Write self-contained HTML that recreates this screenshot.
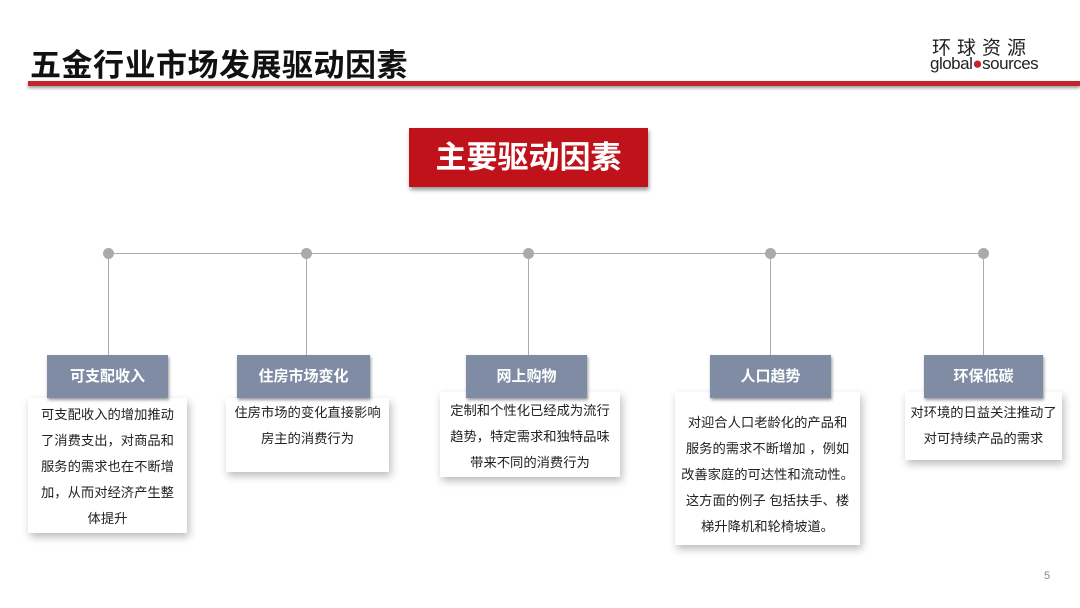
<!DOCTYPE html>
<html><head><meta charset="utf-8"><style>
*{margin:0;padding:0;box-sizing:border-box}
body{width:1080px;height:608px;background:#fff;position:relative;overflow:hidden;font-family:"Liberation Sans","Noto Sans CJK SC",sans-serif}
.a{position:absolute}
.title{left:30px;top:40px;font-size:31px;font-weight:bold;color:#111;letter-spacing:0.5px}
.line{left:28px;top:81px;width:1052px;height:5px;background:#c0262b;box-shadow:0 2px 3px #999}
.hdr{position:absolute;height:43px;background:#7f8ca4;color:#fff;font-weight:bold;font-size:15px;text-align:center;line-height:43px;box-shadow:1px 2px 3px #999;z-index:2}
.card{position:absolute;background:#fff;box-shadow:2px 4px 8px #bbb;font-size:13.3px;color:#222;text-align:center;line-height:26px;padding-top:4px;white-space:nowrap}
.v{position:absolute;width:1px;background:#aaa;top:253px;height:102px}
.dot{position:absolute;width:11px;height:11px;border-radius:50%;background:#aaa;top:248px}
</style></head><body>
<div class="a title">五金行业市场发展驱动因素</div>
<div class="a" style="left:932px;top:33px;font-size:19px;letter-spacing:6px;color:#222">环球资源</div>
<div class="a" style="left:930px;top:54px;font-size:17px;color:#222;letter-spacing:-0.5px">global<span style="color:#c0262b">●</span>sources</div>
<div class="a line"></div>
<div class="a" style="left:409px;top:128px;width:239px;height:59px;background:#c0121b;color:#fff;font-size:31px;font-weight:bold;text-align:center;line-height:59px;box-shadow:1px 3px 4px #999">主要驱动因素</div>
<div class="a" style="left:108px;top:253px;width:876px;height:1px;background:#aaa"></div>
<div class="dot" style="left:103px"></div><div class="dot" style="left:301px"></div><div class="dot" style="left:523px"></div><div class="dot" style="left:765px"></div><div class="dot" style="left:978px"></div>
<div class="v" style="left:108px"></div><div class="v" style="left:306px"></div><div class="v" style="left:528px"></div><div class="v" style="left:770px"></div><div class="v" style="left:983px"></div>

<div class="hdr" style="left:47px;top:355px;width:121px">可支配收入</div>
<div class="card" style="left:28px;top:398px;width:159px;height:135px">可支配收入的增加推动<br>了消费支出，对商品和<br>服务的需求也在不断增<br>加，从而对经济产生整<br>体提升</div>

<div class="hdr" style="left:237px;top:355px;width:133px">住房市场变化</div>
<div class="card" style="left:226px;top:398px;width:163px;height:74px;padding-top:2px">住房市场的变化直接影响<br>房主的消费行为</div>

<div class="hdr" style="left:466px;top:355px;width:121px">网上购物</div>
<div class="card" style="left:440px;top:392px;width:180px;height:85px;padding-top:6px">定制和个性化已经成为流行<br>趋势，特定需求和独特品味<br>带来不同的消费行为</div>

<div class="hdr" style="left:710px;top:355px;width:121px">人口趋势</div>
<div class="card" style="left:675px;top:392px;width:185px;height:153px;padding-top:18px">对迎合人口老龄化的产品和<br>服务的需求不断增加 ，例如<br>改善家庭的可达性和流动性。<br>这方面的例子 包括扶手、楼<br>梯升降机和轮椅坡道。</div>

<div class="hdr" style="left:924px;top:355px;width:119px">环保低碳</div>
<div class="card" style="left:905px;top:392px;width:157px;height:68px;padding-top:8px">对环境的日益关注推动了<br>对可持续产品的需求</div>

<div class="a" style="left:1044px;top:570px;font-size:11px;color:#888">5</div>
</body></html>
